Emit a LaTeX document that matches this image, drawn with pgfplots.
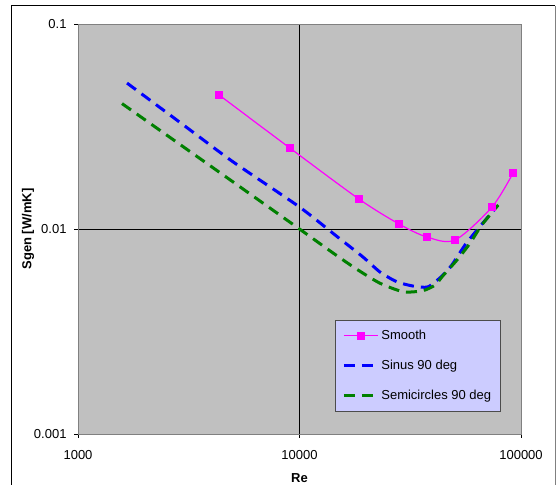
\documentclass[border=0pt]{standalone}
\usepackage{fontspec}
\setmainfont{Liberation Sans}
\usepackage{pgfplots}
\pgfplotsset{compat=1.18}

\definecolor{plotbg}{RGB}{192,192,192}
\definecolor{legbg}{RGB}{204,204,255}
\definecolor{frm}{RGB}{128,128,128}
\definecolor{mag}{RGB}{255,0,255}
\definecolor{dgreen}{RGB}{0,128,0}

\begin{document}
\begin{tikzpicture}
\useasboundingbox (-78bp,-51bp) rectangle (478bp,434bp);
% outer chart border (bottom edge is cut off in the reference)
\draw[black, line width=1bp] (-66bp,-51bp) -- (-66bp,428bp) -- (477bp,428bp);
\draw[frm, line width=0.8bp] (477bp,428bp) -- (477bp,-51bp);
\begin{axis}[
  at={(0,0)}, anchor=south west,
  scale only axis, width=443bp, height=410bp,
  xmode=log, ymode=log,
  xmin=1000, xmax=100000, ymin=0.001, ymax=0.1,
  xtick={1000,10000,100000}, xticklabels={1000,10000,100000},
  ytick={0.001,0.01,0.1}, yticklabels={0.001,0.01,0.1},
  xminorticks=false, yminorticks=false,
  tick align=outside, xtick pos=bottom, ytick pos=left,
  major tick length=4bp,
  tick style={black, line width=0.8bp},
  grid=major, grid style={black, line width=0.8bp},
  axis background/.style={fill=plotbg},
  axis line style={frm, line width=1bp},
  font=\fontsize{13bp}{15bp}\selectfont,
  xticklabel style={yshift=-9bp},
  yticklabel style={xshift=-4bp},
  xlabel={\bfseries Re}, ylabel={\bfseries Sgen [W/mK]},
  xlabel style={yshift=-7bp},
  ylabel style={yshift=-7bp},
  legend cell align=left,
  legend image code/.code={\draw[mark repeat=2,mark phase=2,#1] plot coordinates {(0bp,0bp) (17bp,0bp) (34bp,0bp)};},
  legend style={at={(0.580,0.278)}, anchor=north west,
    fill=legbg, draw=black!70, line width=0.8bp,
    font=\fontsize{13bp}{15bp}\selectfont,
    inner xsep=7bp, inner ysep=8bp, row sep=15bp,
    nodes={inner sep=2bp},
    /tikz/every even column/.append style={column sep=3bp}},
]
\addplot[mag, line width=1.2bp, smooth, mark=square*, mark size=3.3bp,
  mark options={solid, fill=mag, draw=mag}] coordinates {
  (4330,0.0451) (9060,0.0248) (18560,0.0140) (28130,0.01058)
  (37630,0.00914) (50360,0.00884) (73950,0.0128) (92050,0.01876)};
\addlegendentry{Smooth}
\addplot[blue, line width=3bp, smooth, tension=0.4, dash pattern=on 11bp off 7bp] coordinates {
  (1665,0.0515) (3000,0.0321) (5000,0.0213) (10000,0.0128) (15000,0.00907)
  (19350,0.0073) (23080,0.00617) (27480,0.00553) (32540,0.00527) (38000,0.00522)
  (44000,0.0059) (48700,0.00667) (55900,0.00836) (64200,0.01007) (76000,0.0125)};
\addlegendentry{Sinus 90 deg}
\addplot[dgreen, line width=3bp, smooth, tension=0.4, dash pattern=on 11bp off 7bp] coordinates {
  (1580,0.0409) (3000,0.0251) (5000,0.0170) (10000,0.0100) (14170,0.00764)
  (18000,0.0064) (23000,0.00545) (29400,0.00494) (36000,0.00500) (41000,0.00533)
  (44000,0.00585) (51400,0.00706) (58800,0.00851) (66500,0.01046) (79000,0.0131)};
\addlegendentry{Semicircles 90 deg}
\end{axis}
\end{tikzpicture}
\end{document}
